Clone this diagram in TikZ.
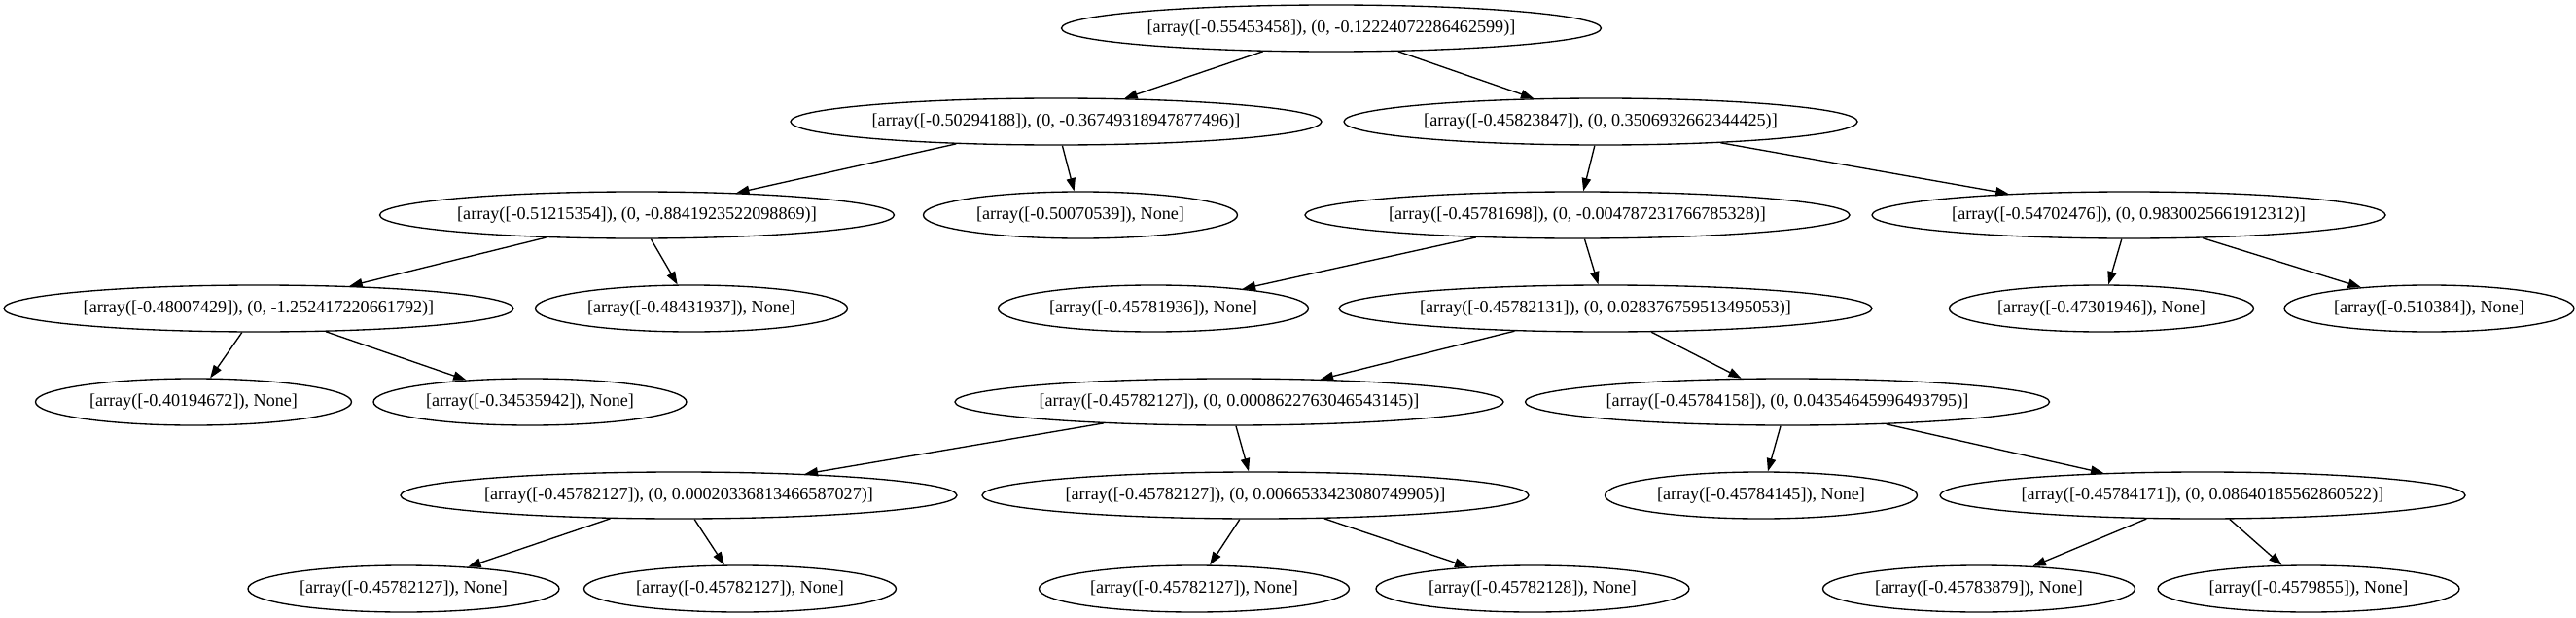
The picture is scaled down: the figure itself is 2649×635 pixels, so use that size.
\documentclass[tikz,border=0pt]{standalone}
\usepackage{fontspec}
\setmainfont{Liberation Serif}
\usetikzlibrary{arrows.meta,shapes.geometric}
\newcommand{\nodetxt}[1]{\makebox[0pt][c]{#1}}
\begin{document}
\begin{tikzpicture}[x=0.75pt,y=-0.75pt,
  nd/.style={draw, ellipse, line width=1pt, minimum height=36pt, inner sep=0pt, font=\fontsize{13.6}{16}\selectfont},
  ew/.style={minimum width=#1*0.75pt},
  conn/.style={line width=1pt, -{Triangle[length=10pt,width=7pt]}}]
\useasboundingbox (0,0) rectangle (2649,635);
% row 0
\node[nd, ew=555] (r) at (1369,29) {\nodetxt{[array([-0.55453458]), (0, -0.12224072286462599)]}};
% row 1
\node[nd, ew=546] (a) at (1086,125) {\nodetxt{[array([-0.50294188]), (0, -0.36749318947877496)]}};
\node[nd, ew=528] (b) at (1646,125) {\nodetxt{[array([-0.45823847]), (0, 0.3506932662344425)]}};
% row 2
\node[nd, ew=529] (a1) at (655,221) {\nodetxt{[array([-0.51215354]), (0, -0.8841923522098869)]}};
\node[nd, ew=323] (a2) at (1111,221) {\nodetxt{[array([-0.50070539]), None]}};
\node[nd, ew=560] (b1) at (1622,221) {\nodetxt{[array([-0.45781698]), (0, -0.004787231766785328)]}};
\node[nd, ew=528] (b2) at (2189,221) {\nodetxt{[array([-0.54702476]), (0, 0.9830025661912312)]}};
% row 3
\node[nd, ew=524] (a11) at (266,317) {\nodetxt{[array([-0.48007429]), (0, -1.252417220661792)]}};
\node[nd, ew=321] (a12) at (711,317) {\nodetxt{[array([-0.48431937]), None]}};
\node[nd, ew=319] (b11) at (1186,317) {\nodetxt{[array([-0.45781936]), None]}};
\node[nd, ew=548] (b12) at (1651,317) {\nodetxt{[array([-0.45782131]), (0, 0.028376759513495053)]}};
\node[nd, ew=313] (b21) at (2161,317) {\nodetxt{[array([-0.47301946]), None]}};
\node[nd, ew=298] (b22) at (2498,317) {\nodetxt{[array([-0.510384]), None]}};
% row 4
\node[nd, ew=325] (a111) at (199,413) {\nodetxt{[array([-0.40194672]), None]}};
\node[nd, ew=322] (a112) at (545,413) {\nodetxt{[array([-0.34535942]), None]}};
\node[nd, ew=564] (b121) at (1264,413) {\nodetxt{[array([-0.45782127]), (0, 0.0008622763046543145)]}};
\node[nd, ew=539] (b122) at (1838,413) {\nodetxt{[array([-0.45784158]), (0, 0.04354645996493795)]}};
% row 5
\node[nd, ew=572] (b1211) at (698,509) {\nodetxt{[array([-0.45782127]), (0, 0.00020336813466587027)]}};
\node[nd, ew=562] (b1212) at (1291,509) {\nodetxt{[array([-0.45782127]), (0, 0.0066533423080749905)]}};
\node[nd, ew=321] (b1221) at (1811,509) {\nodetxt{[array([-0.45784145]), None]}};
\node[nd, ew=540] (b1222) at (2265,509) {\nodetxt{[array([-0.45784171]), (0, 0.08640185562860522)]}};
% row 6
\node[nd, ew=320] (b12111) at (415,605) {\nodetxt{[array([-0.45782127]), None]}};
\node[nd, ew=321] (b12112) at (761,605) {\nodetxt{[array([-0.45782127]), None]}};
\node[nd, ew=319] (b12121) at (1228,605) {\nodetxt{[array([-0.45782127]), None]}};
\node[nd, ew=322] (b12122) at (1576,605) {\nodetxt{[array([-0.45782128]), None]}};
\node[nd, ew=321] (b12221) at (2035,605) {\nodetxt{[array([-0.45783879]), None]}};
\node[nd, ew=310] (b12222) at (2374,605) {\nodetxt{[array([-0.4579855]), None]}};
% edges
\draw[conn] (r) -- (a);
\draw[conn] (r) -- (b);
\draw[conn] (a) -- (a1);
\draw[conn] (a) -- (a2);
\draw[conn] (a1) -- (a11);
\draw[conn] (a1) -- (a12);
\draw[conn] (a11) -- (a111);
\draw[conn] (a11) -- (a112);
\draw[conn] (b) -- (b1);
\draw[conn] (b) -- (b2);
\draw[conn] (b1) -- (b11);
\draw[conn] (b1) -- (b12);
\draw[conn] (b12) -- (b121);
\draw[conn] (b12) -- (b122);
\draw[conn] (b121) -- (b1211);
\draw[conn] (b121) -- (b1212);
\draw[conn] (b1211) -- (b12111);
\draw[conn] (b1211) -- (b12112);
\draw[conn] (b1212) -- (b12121);
\draw[conn] (b1212) -- (b12122);
\draw[conn] (b122) -- (b1221);
\draw[conn] (b122) -- (b1222);
\draw[conn] (b1222) -- (b12221);
\draw[conn] (b1222) -- (b12222);
\draw[conn] (b2) -- (b21);
\draw[conn] (b2) -- (b22);
\end{tikzpicture}
\end{document}
